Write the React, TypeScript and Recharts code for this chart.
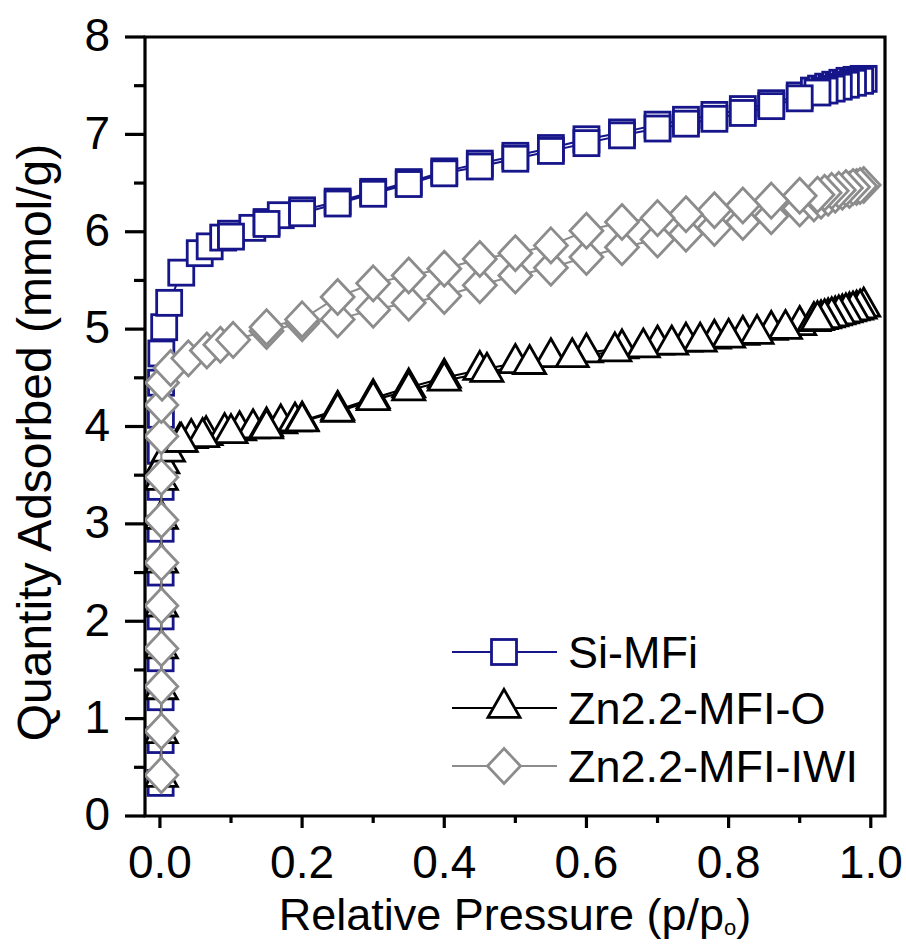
import React from 'react';
import { ScatterChart, Scatter, XAxis, YAxis, Legend, Label, ReferenceArea } from 'recharts';

const FONT = '"Liberation Sans", Arial, Helvetica, sans-serif';
const NAVY = '#16168a';
const BLACK = '#000000';
const GRAY = '#8c8c8c';

const xTicks = [0, 0.1, 0.2, 0.3, 0.4, 0.5, 0.6, 0.7, 0.8, 0.9, 1.0];
const yTicks = [0, 0.5, 1, 1.5, 2, 2.5, 3, 3.5, 4, 4.5, 5, 5.5, 6, 6.5, 7, 7.5, 8];

// Si-MFi (squares) adsorption / desorption
const siAdsP = [0.001, 0.001, 0.001, 0.001, 0.001, 0.001, 0.001, 0.001, 0.0012, 0.0014, 0.0016, 0.002, 0.006, 0.013, 0.03, 0.056, 0.07, 0.089, 0.1, 0.13, 0.15, 0.17, 0.2, 0.25, 0.3, 0.35, 0.4, 0.45, 0.5, 0.55, 0.6, 0.65, 0.7, 0.74, 0.78, 0.82, 0.86, 0.9, 0.92, 0.93, 0.94, 0.95, 0.96, 0.97, 0.98, 0.99];
const siAdsQ = [0.34, 0.78, 1.22, 1.62, 2.05, 2.5, 2.95, 3.38, 3.75, 4.12, 4.45, 4.75, 5.02, 5.27, 5.58, 5.78, 5.85, 5.94, 5.98, 6.04, 6.1, 6.17, 6.22, 6.31, 6.41, 6.51, 6.62, 6.7, 6.78, 6.86, 6.95, 7.02, 7.1, 7.15, 7.2, 7.26, 7.32, 7.4, 7.45, 7.47, 7.49, 7.51, 7.53, 7.55, 7.56, 7.57];
const siDesP = [0.985, 0.975, 0.965, 0.955, 0.945, 0.935, 0.925, 0.9, 0.86, 0.82, 0.78, 0.74, 0.7, 0.65, 0.6, 0.55, 0.5, 0.45, 0.4, 0.35, 0.3, 0.25, 0.2, 0.15, 0.1];
const siDesQ = [7.55, 7.53, 7.51, 7.49, 7.47, 7.45, 7.43, 7.37, 7.29, 7.22, 7.16, 7.11, 7.06, 6.99, 6.91, 6.83, 6.75, 6.67, 6.6, 6.49, 6.39, 6.29, 6.19, 6.08, 5.95];

// Zn2.2-MFI-O (triangles)
const znoAdsP = [0.002, 0.002, 0.002, 0.002, 0.002, 0.002, 0.002, 0.002, 0.004, 0.012, 0.028, 0.044, 0.065, 0.091, 0.112, 0.131, 0.15, 0.17, 0.19, 0.2, 0.25, 0.3, 0.35, 0.4, 0.45, 0.5, 0.55, 0.6, 0.65, 0.7, 0.74, 0.78, 0.82, 0.86, 0.9, 0.92, 0.93, 0.94, 0.95, 0.96, 0.97, 0.98, 0.99];
const znoAdsQ = [0.4, 0.85, 1.3, 1.72, 2.15, 2.6, 3.05, 3.45, 3.62, 3.74, 3.84, 3.88, 3.91, 3.94, 3.96, 3.98, 4.0, 4.03, 4.05, 4.06, 4.17, 4.29, 4.4, 4.5, 4.58, 4.65, 4.71, 4.76, 4.8, 4.84, 4.87, 4.9, 4.94, 4.99, 5.04, 5.08, 5.1, 5.12, 5.14, 5.16, 5.18, 5.2, 5.23];
const znoDesP = [0.985, 0.975, 0.965, 0.955, 0.945, 0.935, 0.925, 0.88, 0.84, 0.8, 0.76, 0.72, 0.68, 0.64, 0.58, 0.52, 0.46, 0.4, 0.35, 0.3, 0.25, 0.2, 0.15, 0.1, 0.06, 0.03];
const znoDesQ = [5.21, 5.19, 5.17, 5.15, 5.13, 5.11, 5.09, 5.0, 4.95, 4.91, 4.87, 4.84, 4.81, 4.77, 4.71, 4.64, 4.56, 4.47, 4.37, 4.27, 4.15, 4.05, 3.98, 3.93, 3.89, 3.84];

// Zn2.2-MFI-IWI (diamonds)
const iwiAdsP = [0.002, 0.002, 0.002, 0.002, 0.002, 0.002, 0.002, 0.002, 0.002, 0.002, 0.003, 0.015, 0.04, 0.066, 0.085, 0.103, 0.15, 0.2, 0.25, 0.3, 0.35, 0.4, 0.45, 0.5, 0.55, 0.6, 0.65, 0.7, 0.74, 0.78, 0.82, 0.86, 0.9, 0.92, 0.93, 0.94, 0.95, 0.96, 0.97, 0.98, 0.99];
const iwiAdsQ = [0.42, 0.87, 1.33, 1.72, 2.16, 2.6, 3.04, 3.48, 3.9, 4.22, 4.45, 4.6, 4.7, 4.78, 4.84, 4.89, 4.98, 5.06, 5.1, 5.2, 5.27, 5.34, 5.45, 5.55, 5.63, 5.74, 5.84, 5.92, 5.98, 6.04, 6.1, 6.16, 6.24, 6.29, 6.32, 6.35, 6.38, 6.41, 6.43, 6.46, 6.48];
const iwiDesP = [0.985, 0.975, 0.965, 0.955, 0.945, 0.935, 0.925, 0.9, 0.86, 0.82, 0.78, 0.74, 0.7, 0.65, 0.6, 0.55, 0.5, 0.45, 0.4, 0.35, 0.3, 0.25, 0.2, 0.15];
const iwiDesQ = [6.47, 6.46, 6.45, 6.43, 6.42, 6.4, 6.38, 6.37, 6.32, 6.27, 6.22, 6.18, 6.14, 6.1, 6.01, 5.86, 5.78, 5.72, 5.62, 5.55, 5.47, 5.33, 5.1, 5.02];

const zip = (p: number[], q: number[]) => p.map((v, i) => ({ p: v, q: q[i] }));
const siData = [...zip(siAdsP, siAdsQ), ...zip(siDesP, siDesQ)];
const znoData = [...zip(znoAdsP, znoAdsQ), ...zip(znoDesP, znoDesQ)];
const iwiData = [...zip(iwiAdsP, iwiAdsQ), ...zip(iwiDesP, iwiDesQ)];

const SquareMark = ({ cx, cy, color }: any) => (
  <rect x={cx - 12.5} y={cy - 12.5} width={25} height={25} fill="#fff" stroke={color} strokeWidth={2.8} />
);
const TriMark = ({ cx, cy, color }: any) => {
  const h = 28;
  const w = 32;
  return (
    <polygon
      points={`${cx},${cy - (2 * h) / 3} ${cx + w / 2},${cy + h / 3} ${cx - w / 2},${cy + h / 3}`}
      fill="#fff"
      stroke={color}
      strokeWidth={2.8}
      strokeLinejoin="miter"
    />
  );
};
const DiaMark = ({ cx, cy, color }: any) => (
  <polygon
    points={`${cx},${cy - 17.5} ${cx + 16.5},${cy} ${cx},${cy + 17.5} ${cx - 16.5},${cy}`}
    fill="#fff"
    stroke={color}
    strokeWidth={2.8}
  />
);

const Y_TICK_SIZE = 20;
const Y_TICK_MARGIN = 15;
const X_TICK_SIZE = 12;
const X_TICK_MARGIN = 17;

const YTick = (props: any) => {
  const { x, y, payload } = props;
  const v = payload.value;
  const major = Math.abs(v - Math.round(v)) < 1e-6;
  const axisX = x + Y_TICK_MARGIN + Y_TICK_SIZE;
  return (
    <g>
      <line x1={major ? axisX - 20 : axisX - 11} x2={axisX} y1={y} y2={y} stroke="#000" strokeWidth={3.2} />
      {major && (
        <text x={x} y={y - 2} dy="0.355em" textAnchor="end" fontSize={46} fontFamily={FONT} fill="#000">
          {String(v)}
        </text>
      )}
    </g>
  );
};

const XTick = (props: any) => {
  const { x, y, payload } = props;
  const v = payload.value;
  const major = Math.round(v * 10) % 2 === 0;
  const axisY = y - X_TICK_MARGIN - X_TICK_SIZE;
  return (
    <g>
      <line x1={x} x2={x} y1={axisY} y2={axisY + (major ? 12 : 7)} stroke="#000" strokeWidth={3.2} />
      {major && (
        <text x={x} y={y} dy="0.71em" textAnchor="middle" fontSize={46} fontFamily={FONT} fill="#000">
          {v.toFixed(1)}
        </text>
      )}
    </g>
  );
};

const XTitle = (props: any) => {
  const vb = props.viewBox || { x: 145, y: 816, width: 740, height: 128 };
  return (
    <text x={vb.x + vb.width / 2} y={vb.y + 114} textAnchor="middle" fontSize={45} fontFamily={FONT} fill="#000">
      Relative Pressure (p/p
      <tspan fontSize={22} dy={5}>o</tspan>
      <tspan dy={-5}>)</tspan>
    </text>
  );
};

const YTitle = (props: any) => {
  const vb = props.viewBox || { x: 0, y: 37, width: 145, height: 779 };
  const cx = 51;
  const cy = vb.y + vb.height / 2 + 16;
  return (
    <text
      transform={`translate(${cx},${cy}) rotate(-90)`}
      x={0}
      y={0}
      textAnchor="middle"
      fontSize={48}
      fontFamily={FONT}
      fill="#000"
    >
      Quantity Adsorbed (mmol/g)
    </text>
  );
};

const legendItems = [
  { name: 'Si-MFi', color: NAVY, Mark: SquareMark },
  { name: 'Zn2.2-MFI-O', color: BLACK, Mark: TriMark },
  { name: 'Zn2.2-MFI-IWI', color: GRAY, Mark: DiaMark },
];
const legendRowY = [32, 88, 146];

const LegendBox = () => (
  <svg width={440} height={175} style={{ display: 'block', overflow: 'visible' }}>
    {legendItems.map((it, i) => {
      const cy = legendRowY[i];
      const M = it.Mark;
      return (
        <g key={it.name}>
          <line x1={12} x2={117} y1={cy} y2={cy} stroke={it.color} strokeWidth={2} />
          <M cx={64} cy={cy} color={it.color} />
          <text x={128} y={cy + 16} fontSize={45} fontFamily={FONT} fill="#000">
            {it.name}
          </text>
        </g>
      );
    })}
  </svg>
);

const DOMAIN_X: [number, number] = [-0.021, 1.02];
const DOMAIN_Y: [number, number] = [0, 8];

export default function App() {
  return (
    <div style={{ position: 'absolute', left: 0, top: 0, width: 906, height: 944, background: '#fff' }}>
      <ScatterChart width={906} height={944} margin={{ top: 37, right: 21, bottom: 0, left: 0 }}>
        <XAxis
          dataKey="p"
          type="number"
          domain={DOMAIN_X}
          allowDataOverflow
          ticks={xTicks}
          interval={0}
          height={128}
          tickSize={X_TICK_SIZE}
          tickMargin={X_TICK_MARGIN}
          tickLine={false}
          tick={(p: any) => <XTick {...p} />}
          stroke="#000"
          axisLine={false}
        >
          <Label content={(p: any) => <XTitle {...p} />} />
        </XAxis>
        <YAxis
          dataKey="q"
          type="number"
          domain={DOMAIN_Y}
          allowDataOverflow
          ticks={yTicks}
          interval={0}
          width={145}
          tickSize={Y_TICK_SIZE}
          tickMargin={Y_TICK_MARGIN}
          tickLine={false}
          tick={(p: any) => <YTick {...p} />}
          stroke="#000"
          axisLine={false}
        >
          <Label content={(p: any) => <YTitle {...p} />} />
        </YAxis>
        <ReferenceArea
          x1={DOMAIN_X[0]}
          x2={DOMAIN_X[1]}
          y1={DOMAIN_Y[0]}
          y2={DOMAIN_Y[1]}
          ifOverflow="visible"
          fill="none"
          fillOpacity={0}
          stroke="#000"
          strokeWidth={3.2}
          strokeOpacity={1}
        />
        <Scatter
          name="Si-MFi"
          data={siData}
          isAnimationActive={false}
          line={{ stroke: NAVY, strokeWidth: 2 }}
          shape={(p: any) => <SquareMark cx={p.cx} cy={p.cy} color={NAVY} />}
        />
        <Scatter
          name="Zn2.2-MFI-O"
          data={znoData}
          isAnimationActive={false}
          line={{ stroke: BLACK, strokeWidth: 2 }}
          shape={(p: any) => <TriMark cx={p.cx} cy={p.cy} color={BLACK} />}
        />
        <Scatter
          name="Zn2.2-MFI-IWI"
          data={iwiData}
          isAnimationActive={false}
          line={{ stroke: GRAY, strokeWidth: 2 }}
          shape={(p: any) => <DiaMark cx={p.cx} cy={p.cy} color={GRAY} />}
        />
        <Legend
          layout="vertical"
          align="center"
          verticalAlign="middle"
          wrapperStyle={{ left: 440, top: 620, width: 440, height: 175 }}
          content={() => <LegendBox />}
        />
      </ScatterChart>
    </div>
  );
}
